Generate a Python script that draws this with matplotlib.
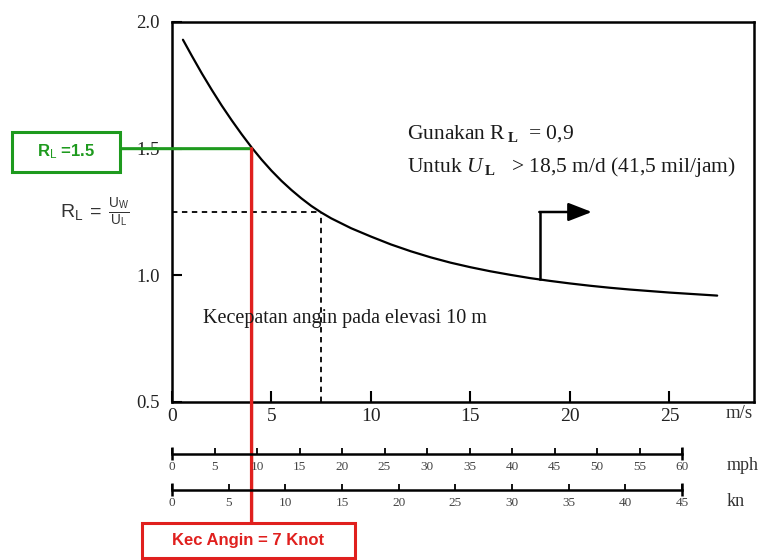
import matplotlib
matplotlib.use("Agg")
import matplotlib.pyplot as plt
from matplotlib.patches import Rectangle

plt.rcParams['mathtext.fontset'] = 'custom'
plt.rcParams['mathtext.rm'] = 'Liberation Serif'
plt.rcParams['mathtext.it'] = 'Liberation Serif:italic'
plt.rcParams['mathtext.bf'] = 'Liberation Serif:bold'
plt.rcParams['mathtext.sf'] = 'Liberation Sans'

# ---- data ----
wind_ms = [0.55, 1.0, 1.5, 2.0, 2.5, 3.0, 3.5, 4.0, 4.5, 5.0, 5.5, 6.0, 6.5, 7.0, 7.5,
           8.0, 9.0, 10, 11, 12, 13, 14, 15, 16, 17, 18, 19, 20, 21, 22, 23, 24, 25,
           26, 27.4]
rl_vals = [1.93, 1.866, 1.797, 1.732, 1.670, 1.612, 1.557, 1.505, 1.457, 1.413, 1.373,
           1.337, 1.304, 1.274, 1.248, 1.225, 1.186, 1.153, 1.122, 1.095, 1.071, 1.050,
           1.032, 1.016, 1.002, 0.989, 0.978, 0.968, 0.959, 0.951, 0.944, 0.938, 0.932,
           0.927, 0.920]
x_ticks = [0, 5, 10, 15, 20, 25]
y_ticks = [0.5, 1.0, 1.5, 2.0]
mph_ticks = list(range(0, 61, 5))
kn_ticks = list(range(0, 46, 5))
dash_point = (7.5, 1.25)
example_ms = 4.0
example_rl = 1.5
limit_ms = 18.5
limit_rl = 0.984
arrow_end_ms = 21.1

W, H = 763, 560
fig = plt.figure(figsize=(W / 100, H / 100), dpi=100)
serif = 'Liberation Serif'
sans = 'Liberation Sans'

# main axes
ax = fig.add_axes([172 / W, 1 - 402 / H, 582 / W, 380 / H])
ax.set_xlim(0, 29.25)
ax.set_ylim(0.5, 2.0)
for s in ax.spines.values():
    s.set_linewidth(1.8)
ax.set_xticks(x_ticks)
ax.set_yticks(y_ticks)
ax.set_xticklabels([str(v) for v in x_ticks], family=serif, fontsize=14, color='#222')
ax.set_yticklabels([f"{v:.1f}" for v in y_ticks], family=serif, fontsize=13.5, color='#222')
ax.tick_params(axis='x', direction='in', length=8, width=1.5, pad=4)
ax.tick_params(axis='y', direction='in', length=7, width=1.5, pad=9)

ax.plot(wind_ms, rl_vals, color='black', lw=1.6, zorder=3,
        solid_joinstyle='round', solid_capstyle='round')

# dashed guide
ax.plot([0, dash_point[0]], [dash_point[1], dash_point[1]], color='black', lw=1.3,
        dashes=(3, 2.5), zorder=2)
ax.plot([dash_point[0], dash_point[0]], [0.5, dash_point[1]], color='black', lw=1.3,
        dashes=(3, 2.5), zorder=2)

# limit arrow
ax.plot([limit_ms, limit_ms], [limit_rl, 1.25], color='black', lw=1.8, zorder=3)
ax.annotate('', xy=(arrow_end_ms, 1.25), xytext=(limit_ms - 0.04, 1.25),
            arrowprops=dict(arrowstyle='-|>,head_length=0.9,head_width=0.35', color='black',
                            lw=1.8, shrinkA=0, shrinkB=0, mutation_scale=16))

# annotations in chart
fig.text(407 / W, 1 - 134 / H, r'Gunakan R$\,_{\mathbf{L}}$  = 0,9',
         family=serif, fontsize=15.5, color='#1a1a1a', va='center', ha='left')
fig.text(407 / W, 1 - 167 / H, r'Untuk $\mathit{U}\,_{\mathbf{L}}$   > 18,5 m/d (41,5 mil/jam)',
         family=serif, fontsize=15.5, color='#1a1a1a', va='center', ha='left')
fig.text(203 / W, 1 - 318 / H, 'Kecepatan angin pada elevasi 10 m',
         family=serif, fontsize=14.5, color='#1a1a1a', va='center', ha='left')
fig.text(726 / W, 1 - 413 / H, 'm/s', family=serif, fontsize=13.5, color='#333',
         va='center', ha='left')

# formula
fig.text(60 / W, 1 - 212 / H,
         r'$\mathsf{R}_\mathsf{L}\ \mathsf{=}\ \frac{\mathsf{U}_\mathsf{W}}{\mathsf{U}_\mathsf{L}}$',
         fontsize=14, color='#333', va='center', ha='left')

# secondary scales
def make_scale(ypix, xmax, ticks, label, lab_x):
    sa = fig.add_axes([172 / W, 1 - ypix / H, 510 / W, 10 / H])
    sa.set_xlim(0, xmax)
    sa.set_ylim(0, 1)
    sa.patch.set_visible(False)
    for k in ('top', 'left', 'right'):
        sa.spines[k].set_visible(False)
    sa.spines['bottom'].set_linewidth(1.8)
    sa.yaxis.set_visible(False)
    sa.set_xticks(ticks)
    sa.set_xticklabels([str(t) for t in ticks], family=serif, fontsize=9.5, color='#444')
    sa.tick_params(axis='x', direction='in', length=4, width=1.3, pad=5)
    sa.vlines([0, xmax], -0.55, 0.75, color='black', lw=1.8, clip_on=False)
    fig.text(lab_x / W, 1 - (ypix + 11) / H, label, family=serif, fontsize=13,
             color='#333', va='center', ha='left')
    return sa

make_scale(454, 60, mph_ticks, 'mph', 727)
make_scale(490, 45, kn_ticks, 'kn', 727)

# green box and line
green = '#1e9a1e'
fig.patches.append(Rectangle((12 / W, 1 - 172 / H), 108 / W, 40 / H, transform=fig.transFigure,
                             fill=True, fc='white', ec=green, lw=2.2, zorder=5))
fig.text(66 / W, 1 - 152 / H, r'R$_{\mathsf{L}}$ =1.5', family=sans, fontweight='bold',
         fontsize=12, color=green, va='center', ha='center', zorder=6)
ax.annotate('', xy=(example_ms, example_rl), xycoords='data',
            xytext=(120 / W, example_rl), textcoords=('figure fraction', 'data'),
            arrowprops=dict(arrowstyle='-', color=green, lw=2.2, shrinkA=0, shrinkB=0),
            annotation_clip=False, zorder=6)

# red box and line
red = '#e0201e'
fig.patches.append(Rectangle((142 / W, 1 - 558 / H), 213 / W, 35 / H, transform=fig.transFigure,
                             fill=True, fc='white', ec=red, lw=2.2, zorder=5))
fig.text(248 / W, 1 - 541 / H, 'Kec Angin = 7 Knot', family=sans, fontweight='bold',
         fontsize=12, color=red, va='center', ha='center', zorder=6)
ax.annotate('', xy=(example_ms, example_rl), xycoords='data',
            xytext=(example_ms, 1 - 523 / H), textcoords=('data', 'figure fraction'),
            arrowprops=dict(arrowstyle='-', color=red, lw=2.4, shrinkA=0, shrinkB=0),
            annotation_clip=False, zorder=10)

fig.savefig('out.png', dpi=100)
